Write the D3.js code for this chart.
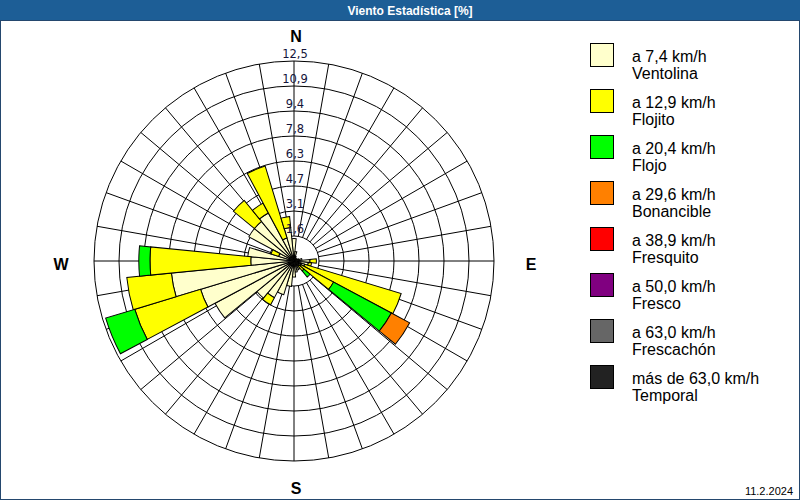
<!DOCTYPE html>
<html>
<head>
<meta charset="utf-8">
<script src="https://cdn.jsdelivr.net/npm/d3@7"></script>
<style>
  html, body { margin: 0; padding: 0; background: #fff; }
  svg { display: block; }
</style>
</head>
<body>
<svg id="chart" width="800" height="500"></svg>
<script>
// ---------- data ----------
const title = "Viento Estadística [%]";
const dateLabel = "11.2.2024";
const directions = ["N","NbE","NNE","NEbN","NE","NEbE","ENE","EbN",
                    "E","EbS","ESE","SEbE","SE","SEbS","SSE","SbE",
                    "S","SbW","SSW","SWbS","SW","SWbW","WSW","WbS",
                    "W","WbN","WNW","NWbW","NW","NWbN","NNW","NbW"];
const classes = ["a 7,4 km/h|Ventolina","a 12,9 km/h|Flojito","a 20,4 km/h|Flojo","a 29,6 km/h|Bonancible",
                 "a 38,9 km/h|Fresquito","a 50,0 km/h|Fresco","a 63,0 km/h|Frescachón","más de 63,0 km/h|Temporal"];
const classColors = ["#ffffcc","#ffff00","#00ff00","#ff8000","#ff0000","#800080","#666666","#222222"];
// share (%) of each speed class per direction
const ventolina  = [1.4,0.6,0.3,0.2,0.2,0.2,0.3,0.5, 1.0,0.9,0.7,0.5,0.4,0.6,0.6,0.7, 1.0,1.6,2.2,2.6,3.0,5.6,6.1,7.7, 2.7,2.9,1.0,3.2,3.2,3.4,1.5,2.1];
const flojito    = [0,0,0,0,0,0,0,0, 0.4,0.2,6.3,2.3,0.4,0,0,0, 0,0,0,0.5,0,0,4.3,2.8, 6.3,0,0.5,0,1.7,0.7,4.7,0.7];
const flojo      = [0,0,0,0,0,0,0,0, 0,0,0,4.1,0.5,0,0,0, 0,0,0,0,0,0,1.9,0, 0.7,0,0,0,0,0,0,0];
const bonancible = [0,0,0,0,0,0,0,0, 0,0,0,1.3,0,0,0,0, 0,0,0,0,0,0,0,0, 0,0,0,0,0,0,0,0];
const fresquito  = new Array(32).fill(0);
const fresco     = new Array(32).fill(0);
const frescachon = new Array(32).fill(0);
const temporal   = new Array(32).fill(0);
const ringTicks = ["1,6","3,1","4,7","6,3","7,8","9,4","10,9","12,5"];
const ringValues = [1.5625,3.125,4.6875,6.25,7.8125,9.375,10.9375,12.5];
const compass = [["N",0],["E",90],["S",180],["W",270]];

// ---------- layout ----------
const svg = d3.select("#chart");
const W = 800, H = 500;
const cx = 294, cy = 261, R = 200;

// title bar
svg.append("rect").attr("x",0).attr("y",0).attr("width",W).attr("height",20).attr("fill","#1d5e96");
svg.append("text").attr("x",410).attr("y",15).attr("text-anchor","middle")
  .attr("font-family","Liberation Sans, Arial, sans-serif").attr("font-weight","bold").attr("font-size",12)
  .attr("fill","#fff").text(title);
// frame
svg.append("rect").attr("x",0.5).attr("y",20.5).attr("width",W-1).attr("height",H-21)
  .attr("fill","none").attr("stroke","#24476e").attr("stroke-width",1);

const g = svg.append("g").attr("transform",`translate(${cx},${cy})`);
const r = d3.scaleLinear().domain([0,12.5]).range([0,R]);
const ang = d3.scaleBand().domain(directions).range([0,2*Math.PI]).padding(0);
const half = ang.bandwidth()/2;

// grid spokes every 10 degrees
const spokeAngles = d3.range(0,360,10);
g.selectAll("line.spoke").data(spokeAngles).join("line")
  .attr("x1",d=>r(ringValues[0])*Math.sin(d*Math.PI/180))
  .attr("y1",d=>-r(ringValues[0])*Math.cos(d*Math.PI/180))
  .attr("x2",d=>R*Math.sin(d*Math.PI/180))
  .attr("y2",d=>-R*Math.cos(d*Math.PI/180))
  .attr("stroke","#000").attr("stroke-width",1);
g.selectAll("circle.ring").data(ringValues).join("circle")
  .attr("r",d=>r(d)).attr("fill","none").attr("stroke","#000").attr("stroke-width",1);

// stacked bars
const series = [ventolina,flojito,flojo,bonancible,fresquito,fresco,frescachon,temporal];
const rows = directions.map((d,i)=>{ const o={dir:d}; series.forEach((s,k)=>o["c"+k]=s[i]); return o; });
const stack = d3.stack().keys(series.map((s,k)=>"c"+k));
const stacked = stack(rows);
const arc = d3.arc();
stacked.forEach((layer,k)=>{
  g.append("g").selectAll("path").data(layer.filter(p=>p[1]-p[0]>0)).join("path")
    .attr("d",p=>arc({innerRadius:r(p[0]),outerRadius:r(p[1]),
        startAngle:ang(p.data.dir), endAngle:ang(p.data.dir)+2*half}).toString())
    .attr("transform",`rotate(${-half*180/Math.PI})`)
    .attr("fill",classColors[k]).attr("stroke","#000").attr("stroke-width",1);
});

// ring labels
g.selectAll("text.tick").data(ringValues).join("text")
  .attr("x",1).attr("y",d=>-r(d)-3).attr("text-anchor","middle")
  .attr("font-family","DejaVu Sans, Verdana, sans-serif").attr("font-size",11.5).attr("fill","#14143a")
  .text((d,i)=>ringTicks[i]);

// compass labels
const cpos = {N:[296,42],E:[531,270],S:[296,494],W:[61,270]};
svg.selectAll("text.compass").data(compass).join("text")
  .attr("x",d=>cpos[d[0]][0]).attr("y",d=>cpos[d[0]][1]).attr("text-anchor","middle")
  .attr("font-family","Liberation Sans, Arial, sans-serif").attr("font-weight","bold").attr("font-size",16)
  .attr("fill","#000").text(d=>d[0]);

// legend
const lg = svg.append("g");
classes.forEach((c,i)=>{
  const y0 = 43 + i*46;
  lg.append("rect").attr("x",590.5).attr("y",y0+0.5).attr("width",23).attr("height",23)
    .attr("fill",classColors[i]).attr("stroke","#000").attr("stroke-width",1);
  const parts = c.split("|");
  lg.append("text").attr("x",632).attr("y",y0+19).attr("font-family","Liberation Sans, Arial, sans-serif")
    .attr("font-size",16).attr("fill","#000").text(parts[0]);
  lg.append("text").attr("x",632).attr("y",y0+36).attr("font-family","Liberation Sans, Arial, sans-serif")
    .attr("font-size",16).attr("fill","#000").text(parts[1]);
});

// date
svg.append("text").attr("x",793).attr("y",495).attr("text-anchor","end")
  .attr("font-family","Liberation Sans, Arial, sans-serif").attr("font-size",11).attr("fill","#000").text(dateLabel);
</script>
</body>
</html>
